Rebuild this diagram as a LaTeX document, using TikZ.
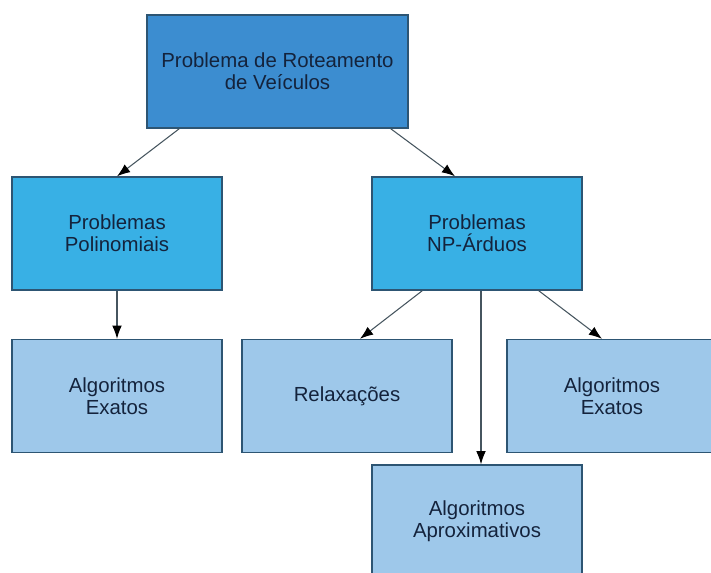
\documentclass[tikz,border=0pt]{standalone}
\usepackage{fontspec}
\setmainfont{Liberation Sans}
\usepackage{tikz}
\usetikzlibrary{calc}
\usetikzlibrary{arrows.meta, positioning}

\definecolor{topblue}{RGB}{60,141,208}
\definecolor{midblue}{RGB}{56,176,229}
\definecolor{lightblue}{RGB}{158,200,234}
\definecolor{boxline}{RGB}{45,85,115}
\definecolor{textnavy}{RGB}{20,35,60}
\definecolor{arrowgray}{RGB}{70,85,95}

\begin{document}
\begin{tikzpicture}[x=0.02cm, y=-0.02cm,
    box/.style={draw=boxline, line width=0.8pt, text=textnavy, align=center,
        minimum width=4.2cm, minimum height=2.26cm, inner sep=0pt,
        font=\fontsize{11.6}{12.6}\selectfont},
    link/.style={draw=arrowgray, line width=0.6pt, -{Latex[length=7.5pt,width=5.5pt,color=black]}}]

% Page area (boxes are cut at the right and bottom edges)
\clip (0,0) rectangle (711,573);
\fill[white] (0,0) rectangle (711,573);

% Top box
\node[box, fill=topblue, minimum width=5.22cm] (vrp) at (277.5,71.5) {Problema de Roteamento\\de Veículos};

% Second level
\node[box, fill=midblue] (poly) at (117,233.5) {Problemas\\Polinomiais};
\node[box, fill=midblue] (nphard) at (477,233.5) {Problemas\\NP-Árduos};

% Third level
\node[box, fill=lightblue] (exactL) at (117,396) {Algoritmos\\Exatos};
\node[box, fill=lightblue] (relax) at (347,396) {Relaxações};
\node[box, fill=lightblue] (exactR) at (612,396) {Algoritmos\\Exatos};
\node[box, fill=lightblue] (approx) at (477,521.5) {Algoritmos\\Aproximativos};

% Arrows
\draw[link] ($(vrp.south west)+(33,0)$) -- (poly.north);
\draw[link] ($(vrp.south east)+(-18,0)$) -- ($(nphard.north)+(-22,0)$);
\draw[link] (poly.south) -- (exactL.north);
\draw[link] ($(nphard.south west)+(51,0)$) -- ($(relax.north)+(13,0)$);
\draw[link] ($(nphard.south)+(4,0)$) -- ($(approx.north)+(4,0)$);
\draw[link] ($(nphard.south east)+(-44,0)$) -- ($(exactR.north)+(-10,0)$);

\end{tikzpicture}
\end{document}
